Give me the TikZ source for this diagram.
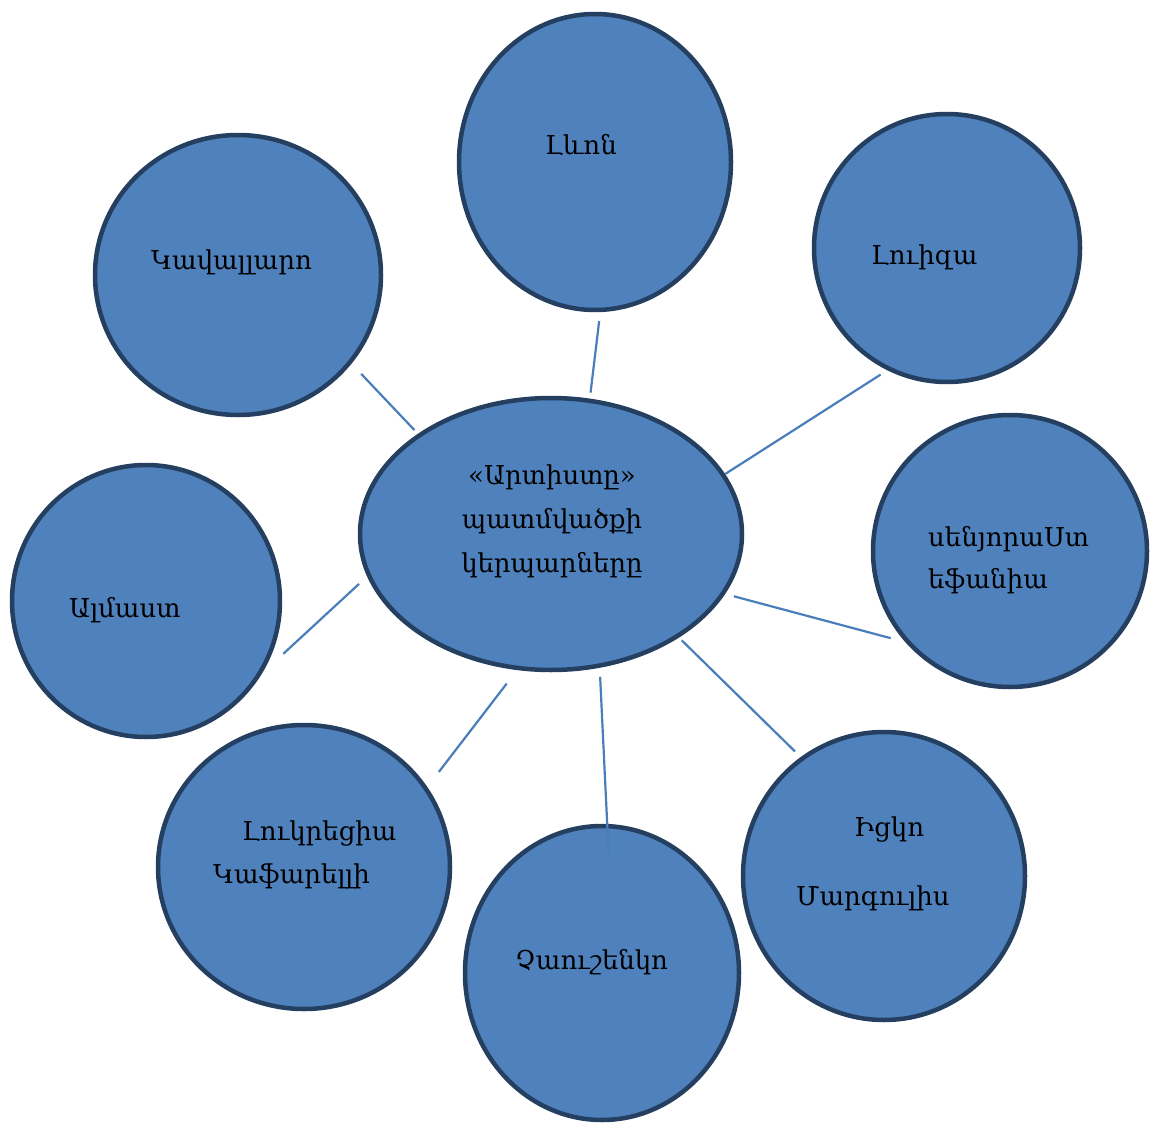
\documentclass[tikz,border=0pt]{standalone}
\usepackage{fontspec}
\setmainfont{DejaVu Serif}
\usetikzlibrary{shapes.geometric}
\definecolor{discfill}{HTML}{4F81BD}
\definecolor{discedge}{HTML}{243F60}
\definecolor{spoke}{HTML}{4A7EBB}
\tikzset{
	disc/.style={ellipse, draw=discedge, fill=discfill, line width=4.5pt, inner sep=0pt},
	spokeline/.style={draw=spoke, line width=2.2pt},
	persona/.style={anchor=base west, inner sep=0pt, font=\fontsize{26}{30}\selectfont}
}
\begin{document}
\begin{tikzpicture}[x=1pt,y=-1pt]
				\useasboundingbox (0,0) rectangle (1152,1124);
				
				\node[disc, minimum width=382pt, minimum height=272pt] (story) at (551,534) {};
				\node[disc, minimum width=272pt, minimum height=296pt] (levon) at (595,162) {};
				\node[disc, minimum width=286pt, minimum height=280pt] (kavallaro) at (238,275) {};
				\node[disc, minimum width=266pt, minimum height=268pt] (luiza) at (947,248) {};
				\node[disc, minimum width=274pt, minimum height=272pt] (stefania) at (1010,551) {};
				\node[disc, minimum width=268pt, minimum height=272pt] (almast) at (146,601) {};
				\node[disc, minimum width=292pt, minimum height=284pt] (lukrecia) at (304,867) {};
				\node[disc, minimum width=274pt, minimum height=294pt] (chaushenko) at (602,973) {};
				\node[disc, minimum width=282pt, minimum height=288pt] (icko) at (884,876) {};
				
				\node[persona, anchor=center, align=center, font=\fontsize{26}{44}\selectfont] (storytext) at (552,521) {«Արտիստը»\\պատմվածքի\\կերպարները};
				\node[persona] (levontext) at (545,154) {Լևոն};
				\node[persona] (kavallarotext) at (151,269) {Կավալլարո};
				\node[persona] (luizatext) at (871,264) {Լուիզա};
				\node[persona] (stefaniatext) at (928,546) {սենյորաՍտ};
				\node[persona] (stefaniatext2) at (928,588) {եֆանիա};
				\node[persona] (almasttext) at (69,617) {Ալմաստ};
				\node[persona] (lukreciatext) at (242,840) {Լուկրեցիա};
				\node[persona] (lukreciatext2) at (213,883) {Կաֆարելլի};
				\node[persona] (chaushenkotext) at (515,969) {Չաուշենկո};
				\node[persona] (ickotext) at (854,836) {Իցկո};
				\node[persona] (ickotext2) at (796,905) {Մարգուլիս};
				
				\draw[spokeline, shorten <=6pt, shorten >=9pt] (story.74) -- (levon.-88);
				\draw[spokeline, shorten <=0pt, shorten >=8pt] (story.19) -- (luiza.244);
				\draw[spokeline, shorten <=9pt, shorten >=15pt] (story.-19) -- (stefania.221);
				\draw[spokeline, shorten <=4pt, shorten >=8pt] (story.-39) -- (icko.125);
				\draw[spokeline, shorten <=9pt, shorten >=-34pt] (story.-70) -- (chaushenko.88);
				\draw[spokeline, shorten <=17pt, shorten >=19pt] (story.256) -- (lukrecia.33);
				\draw[spokeline, shorten <=11pt, shorten >=29pt] (story.193) -- (almast.-32);
				\draw[spokeline, shorten <=5pt, shorten >=14pt] (story.143) -- (kavallaro.-38);
			\end{tikzpicture}
\end{document}
